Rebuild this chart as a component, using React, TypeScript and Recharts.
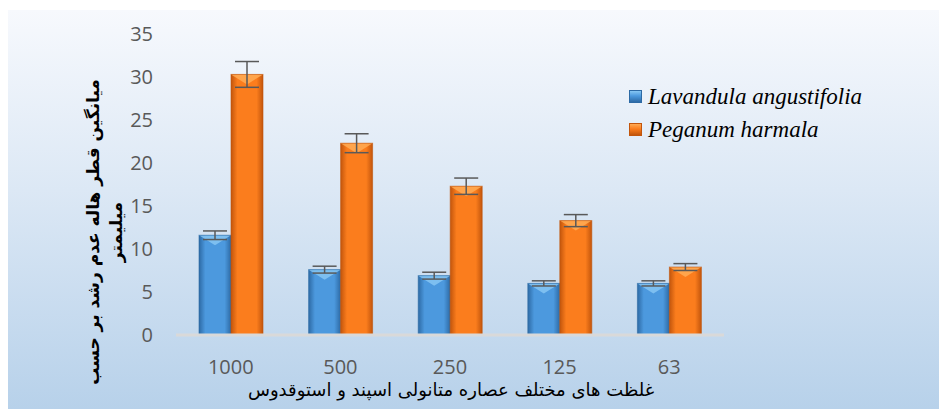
import { BarChart, Bar, XAxis, YAxis, ErrorBar, Legend } from "recharts";

const categories = ["1000", "500", "250", "125", "63"];
const lavandula = [11.6, 7.6, 6.9, 6.0, 6.0];
const lavandulaErr = [0.5, 0.4, 0.4, 0.3, 0.3];
const peganum = [30.3, 22.3, 17.3, 13.3, 7.9];
const peganumErr = [1.5, 1.1, 0.95, 0.7, 0.4];
const yTicks = [0, 5, 10, 15, 20, 25, 30, 35];

const seriesNames = ["Lavandula angustifolia", "Peganum harmala"];
const xTitle = "غلظت های مختلف عصاره متانولی اسپند و استوقدوس";
const yTitle = ["میانگین قطر هاله عدم رشد بر حسب", "میلیمتر"];

const data = categories.map((c, i) => ({
  conc: c,
  lav: lavandula[i],
  lavErr: lavandulaErr[i],
  peg: peganum[i],
  pegErr: peganumErr[i],
}));

const palette = {
  blue: { edge: "#2d6aa5", mid: "#4c99de", top: "#86c6f3" },
  orange: { edge: "#c2550c", mid: "#fb7d1d", top: "#ffab55" },
};

const makeBar = (key: "blue" | "orange") => (props: any) => {
  const { x, y, width, height } = props;
  if (!height || height <= 0) return null;
  const b = Math.min(10, height / 2, width / 2);
  const c = palette[key];
  return (
    <g>
      <rect x={x} y={y} width={width} height={height} fill={`url(#grad-${key})`} />
      <polygon
        points={`${x},${y} ${x + width},${y} ${x + width / 2},${y + b}`}
        fill={c.top}
        opacity={0.85}
      />
      <rect x={x} y={y} width={width} height={height} fill="none" stroke={c.edge} strokeWidth={1} strokeOpacity={0.6} />
    </g>
  );
};

// legend drawn as html so the serif italic names look like the original
const LegendBox = () => (
  <div style={{ fontFamily: "'Times New Roman', 'Liberation Serif', serif", fontStyle: "italic", fontSize: 23, color: "#000" }}>
    {seriesNames.map((name, i) => {
      const c = i === 0 ? palette.blue : palette.orange;
      return (
        <div key={name} style={{ display: "flex", alignItems: "center", height: 33 }}>
          <div
            style={{
              width: 13,
              height: 13,
              marginRight: 6,
              background: `linear-gradient(180deg, ${c.top} 0%, ${c.mid} 45%, ${c.edge} 100%)`,
              border: `1px solid ${c.edge}`,
              boxSizing: "border-box",
            }}
          />
          <span>{name}</span>
        </div>
      );
    })}
  </div>
);

export default function App() {
  return (
    <div
      style={{
        position: "relative",
        width: 939,
        height: 399,
        marginTop: 2,
        background: "linear-gradient(180deg, #f7f9fd 0%, #dce8f5 45%, #b7d1ea 100%)",
      }}
    >
      <BarChart
        width={939}
        height={399}
        data={data}
        margin={{ top: 24, right: 223, bottom: 0, left: 0 }}
        barSize={32}
        barGap={0}
      >
        <defs>
          {(["blue", "orange"] as const).map((k) => (
            <linearGradient key={k} id={`grad-${k}`} x1="0" y1="0" x2="1" y2="0">
              <stop offset="0%" stopColor={palette[k].edge} />
              <stop offset="20%" stopColor={palette[k].mid} />
              <stop offset="80%" stopColor={palette[k].mid} />
              <stop offset="100%" stopColor={palette[k].edge} />
            </linearGradient>
          ))}
        </defs>
        <XAxis
          dataKey="conc"
          height={74}
          axisLine={{ stroke: "#d9d9d9", strokeWidth: 3 }}
          tickLine={false}
          tickSize={0}
          tickMargin={25}
          tick={{ fill: "#595959", fontSize: 20, fontFamily: "'Open Sans', sans-serif" }}
        />
        <YAxis
          width={168}
          domain={[0, 35]}
          ticks={yTicks}
          axisLine={false}
          tickLine={false}
          tickSize={0}
          tickMargin={23}
          tick={{ fill: "#595959", fontSize: 20, fontFamily: "'Open Sans', sans-serif" }}
        />
        <Legend
          layout="vertical"
          align="center"
          verticalAlign="middle"
          content={() => <LegendBox />}
          wrapperStyle={{ left: 621, top: 70, width: 300 }}
        />
        <Bar dataKey="lav" name={seriesNames[0]} shape={makeBar("blue")} isAnimationActive={false}>
          <ErrorBar dataKey="lavErr" width={12} stroke="#595959" strokeWidth={1.5} />
        </Bar>
        <Bar dataKey="peg" name={seriesNames[1]} shape={makeBar("orange")} isAnimationActive={false}>
          <ErrorBar dataKey="pegErr" width={12} stroke="#595959" strokeWidth={1.5} />
        </Bar>
      </BarChart>
      <div
        style={{
          position: "absolute",
          left: 443 - 250,
          top: 369,
          width: 500,
          textAlign: "center",
          direction: "rtl",
          fontFamily: "'DejaVu Sans', serif",
          fontSize: 18,
          lineHeight: "22px",
          color: "#000",
        }}
      >
        {xTitle}
      </div>
      <div
        style={{
          position: "absolute",
          left: 98 - 180,
          top: 222 - 24,
          width: 360,
          height: 48,
          transform: "rotate(-90deg)",
          transformOrigin: "center",
          textAlign: "center",
          direction: "rtl",
          fontFamily: "'DejaVu Sans', serif",
          fontWeight: "bold",
          fontSize: 17,
          lineHeight: "23px",
          color: "#000",
        }}
      >
        <div>{yTitle[0]}</div>
        <div>{yTitle[1]}</div>
      </div>
    </div>
  );
}
